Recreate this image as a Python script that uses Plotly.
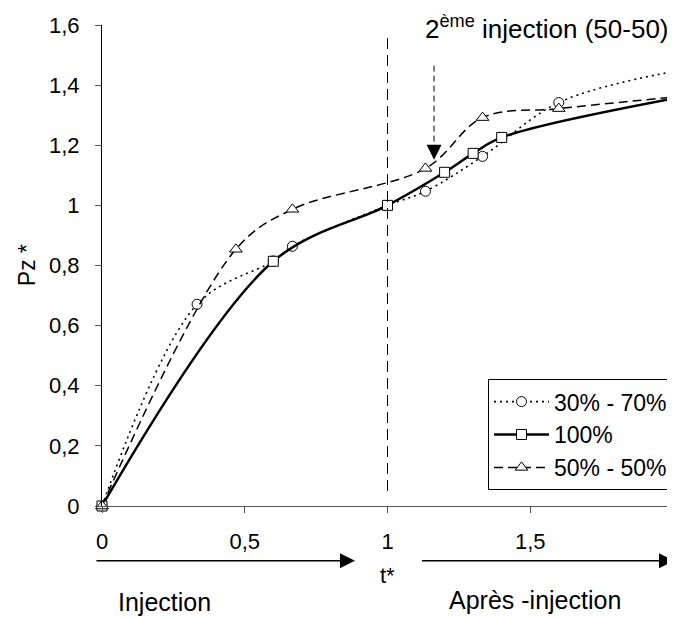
import plotly.graph_objects as go

# ---- data ----
t_30_70 = [0, 0.333, 0.6, 0.667, 1.0, 1.133, 1.333, 1.6, 2.0]
pz_30_70 = [0, 0.671, 0.815, 0.864, 1.0, 1.047, 1.163, 1.342, 1.445]

t_100 = [0, 0.6, 1.0, 1.2, 1.3, 1.4, 2.0]
pz_100 = [0, 0.814, 1.0, 1.11, 1.173, 1.226, 1.355]

t_50_50 = [0, 0.469, 0.667, 1.133, 1.333, 1.6, 2.0]
pz_50_50 = [0, 0.854, 0.987, 1.123, 1.292, 1.322, 1.36]

x_tickvals = [0, 0.5, 1, 1.5, 2]
x_ticktext = ["0", "0,5", "1", "1,5", "2"]
y_tickvals = [0, 0.2, 0.4, 0.6, 0.8, 1.0, 1.2, 1.4, 1.6]
y_ticktext = ["0", "0,2", "0,4", "0,6", "0,8", "1", "1,2", "1,4", "1,6"]

FONT = "Liberation Sans, Arial, sans-serif"

fig = go.Figure()

marker_common = dict(color="white", size=10, line=dict(color="black", width=1))

fig.add_trace(go.Scatter(
    x=t_30_70, y=pz_30_70, name="30% - 70%", mode="lines+markers",
    line=dict(color="black", width=1.6, dash="2px,4px", shape="spline", smoothing=1),
    marker=dict(symbol="circle", **marker_common), cliponaxis=False))

fig.add_trace(go.Scatter(
    x=t_100, y=pz_100, name="100%", mode="lines+markers",
    line=dict(color="black", width=2.5, shape="spline", smoothing=1),
    marker=dict(symbol="square", **marker_common), cliponaxis=False))

fig.add_trace(go.Scatter(
    x=t_50_50, y=pz_50_50, name="50% - 50%", mode="lines+markers",
    line=dict(color="black", width=1.5, dash="9px,5px", shape="spline", smoothing=1),
    marker=dict(symbol="triangle-up", color="white", size=11,
                line=dict(color="black", width=1)), cliponaxis=False))

shapes = [
    # vertical dashed separator at t*=1
    dict(type="line", xref="x", yref="y", x0=1, x1=1, y0=0.05, y1=1.57,
         line=dict(color="black", width=1, dash="11px,6px")),
    # dashed shaft of the 2nd injection arrow
    dict(type="line", xref="x", yref="y", x0=1.163, x1=1.163, y0=1.465, y1=1.19,
         line=dict(color="black", width=1, dash="6px,4px")),
]

annotations = [
    dict(text="2<sup>ème</sup> injection (50-50)", xref="paper", yref="paper",
         x=0.997, y=0.994, xanchor="right", yanchor="middle", showarrow=False,
         font=dict(family=FONT, size=26, color="black")),
    # arrow head of the 2nd injection arrow
    dict(x=1.163, y=1.152, xref="x", yref="y", ax=0, ay=-16, axref="pixel", ayref="pixel",
         showarrow=True, arrowhead=2, arrowsize=3, arrowwidth=1, arrowcolor="black",
         standoff=0, text=""),
    dict(text="Pz *", xref="paper", yref="paper", x=-0.132, y=0.5, textangle=-90,
         xanchor="center", yanchor="middle", showarrow=False,
         font=dict(family=FONT, size=23, color="black")),
    dict(text="t*", xref="x", yref="paper", x=1, y=-0.1455, xanchor="center",
         yanchor="middle", showarrow=False, font=dict(family=FONT, size=22, color="black")),
    dict(text="Injection", xref="paper", yref="paper", x=0.11, y=-0.199, xanchor="center",
         yanchor="middle", showarrow=False, font=dict(family=FONT, size=25, color="black")),
    dict(text="Après -injection", xref="paper", yref="paper", x=0.758, y=-0.195,
         xanchor="center", yanchor="middle", showarrow=False,
         font=dict(family=FONT, size=25, color="black")),
    # bottom phase arrows
    dict(x=0.443, y=-0.114, xref="paper", yref="paper", ax=-260, ay=0,
         axref="pixel", ayref="pixel", showarrow=True, arrowhead=2, arrowsize=2,
         arrowwidth=1.5, arrowcolor="black", standoff=0, text=""),
    dict(x=1.0043, y=-0.114, xref="paper", yref="paper", ax=-255, ay=0,
         axref="pixel", ayref="pixel", showarrow=True, arrowhead=2, arrowsize=2,
         arrowwidth=1.5, arrowcolor="black", standoff=0, text=""),
]

fig.update_layout(
    width=667, height=609,
    margin=dict(l=94, r=2, t=17, b=111, pad=0),
    paper_bgcolor="white", plot_bgcolor="white",
    font=dict(family=FONT, color="black"),
    showlegend=True,
    legend=dict(x=1.0, y=0.033, xanchor="right", yanchor="bottom",
                bgcolor="white", bordercolor="black", borderwidth=1,
                font=dict(family=FONT, size=23, color="black"),
                itemwidth=55, tracegroupgap=0),
    shapes=shapes, annotations=annotations,
)

fig.update_xaxes(range=[0, 2], tickvals=x_tickvals, ticktext=x_ticktext,
                 showgrid=False, zeroline=False, showline=True, linecolor="#555",
                 linewidth=1, ticks="outside", ticklen=6, tickcolor="#555",
                 ticklabelstandoff=10, ticklabeloverflow="allow", automargin=False,
                 tickfont=dict(family=FONT, size=22, color="black"))
fig.update_yaxes(range=[0, 1.6], tickvals=y_tickvals, ticktext=y_ticktext,
                 showgrid=False, zeroline=False, showline=True, linecolor="black",
                 linewidth=1, ticks="outside", ticklen=6, tickcolor="#555",
                 ticklabelstandoff=11, ticklabeloverflow="allow", automargin=False,
                 tickfont=dict(family=FONT, size=22, color="black"))

fig.write_html("out.html")
